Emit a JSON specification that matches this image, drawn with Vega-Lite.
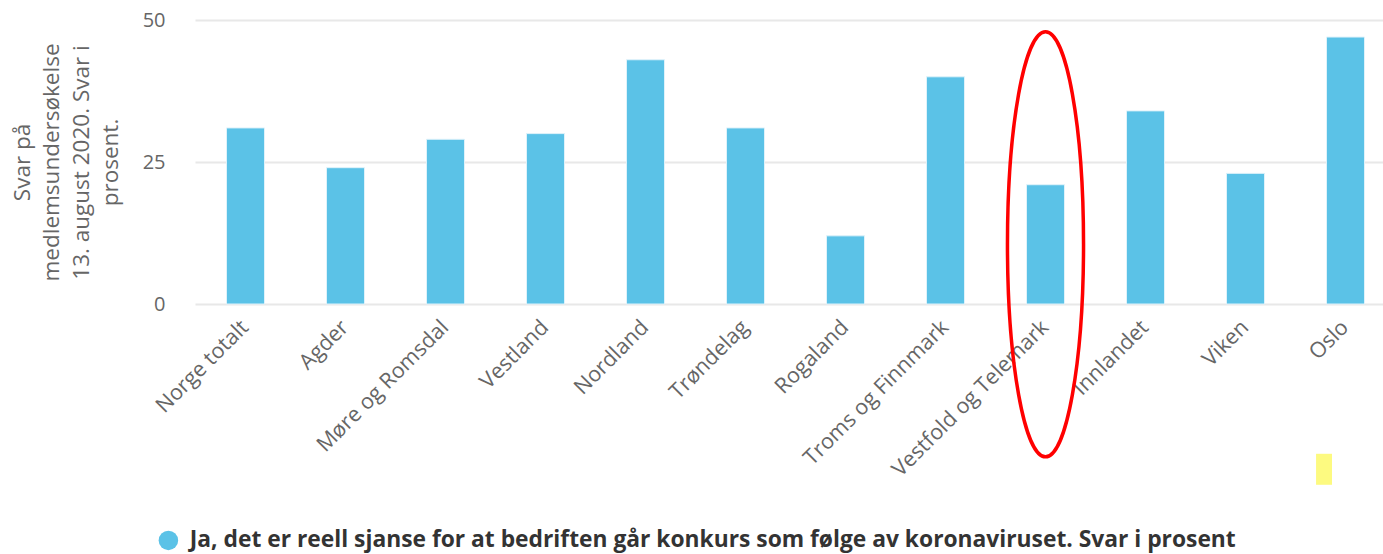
{
  "$schema": "https://vega.github.io/schema/vega-lite/v6.json",
  "autosize": {"type": "none"},
  "padding": {"left": 195, "top": 20, "right": 0, "bottom": 250},
  "width": 1188,
  "height": 284,
  "background": "white",
  "config": {
    "view": {"stroke": null},
    "font": "Open Sans"
  },
  "layer": [
    {
      "data": {
        "values": [
          {"region": "Norge totalt", "value": 31},
          {"region": "Agder", "value": 24},
          {"region": "Møre og Romsdal", "value": 29},
          {"region": "Vestland", "value": 30},
          {"region": "Nordland", "value": 43},
          {"region": "Trøndelag", "value": 31},
          {"region": "Rogaland", "value": 12},
          {"region": "Troms og Finnmark", "value": 40},
          {"region": "Vestfold og Telemark", "value": 21},
          {"region": "Innlandet", "value": 34},
          {"region": "Viken", "value": 23},
          {"region": "Oslo", "value": 47}
        ]
      },
      "mark": {"type": "bar", "stroke": "#dff2fa", "strokeWidth": 1},
      "encoding": {
        "x": {
          "field": "region",
          "type": "nominal",
          "sort": null,
          "scale": {"paddingInner": 0.62, "paddingOuter": 0.25, "align": 0.63},
          "axis": {
            "title": null,
            "domain": false,
            "ticks": false,
            "labelAngle": -45,
            "labelAlign": "right",
            "labelBaseline": "middle",
            "labelPadding": 20,
            "labelFontSize": 21.5,
            "labelColor": "#666666",
            "labelFont": "Open Sans",
            "labelLimit": 400
          }
        },
        "y": {
          "field": "value",
          "type": "quantitative",
          "scale": {"domain": [0, 50], "nice": false},
          "axis": {
            "values": [0, 25, 50],
            "domain": false,
            "ticks": false,
            "gridColor": "#e8e8e8",
            "gridWidth": 2,
            "labelFontSize": 20,
            "labelColor": "#666666",
            "labelPadding": 30,
            "title": ["Svar på", "medlemsundersøkelse", "13. august 2020. Svar i", "prosent."],
            "titleFontSize": 22.5,
            "titleFontWeight": "normal",
            "titleColor": "#666666",
            "titleAngle": -90,
            "titleAlign": "center",
            "titleBaseline": "middle",
            "titleLineHeight": 29.5,
            "titleX": -173,
            "titleY": 142
          }
        },
        "color": {
          "datum": "Ja, det er reell sjanse for at bedriften går konkurs som følge av koronaviruset. Svar i prosent",
          "scale": {"range": ["#5bc2e7"]},
          "legend": {
            "title": null,
            "orient": "none",
            "legendX": -38,
            "legendY": 509,
            "symbolType": "circle",
            "symbolSize": 380,
            "symbolStrokeWidth": 0,
            "labelFontSize": 22.8,
            "labelFontWeight": "bold",
            "labelColor": "#333333",
            "labelFont": "Open Sans",
            "labelLimit": 1300,
            "labelOffset": 10
          }
        }
      }
    },
    {
      "data": {"values": [{"note": "ellipse"}]},
      "mark": {
        "type": "point",
        "shape": "M 0 -1 A 0.179 1 0 1 1 0 1 A 0.179 1 0 1 1 0 -1 Z",
        "filled": false,
        "stroke": "#ff0000",
        "strokeWidth": 3.5,
        "size": 180625,
        "opacity": 1
      },
      "encoding": {
        "x": {"datum": "Vestfold og Telemark", "type": "nominal"},
        "y": {"datum": 10.5, "type": "quantitative"}
      }
    },
    {
      "data": {"values": [{"note": "highlight"}]},
      "mark": {
        "type": "point",
        "shape": "M -1.9 -1 L -0.87 -1 L -0.87 1 L -1.9 1 Z",
        "filled": true,
        "fill": "#fdfa80",
        "strokeWidth": 0,
        "size": 961,
        "opacity": 1
      },
      "encoding": {
        "x": {"datum": "Oslo", "type": "nominal"},
        "y": {"datum": -29.1, "type": "quantitative"}
      }
    }
  ]
}
